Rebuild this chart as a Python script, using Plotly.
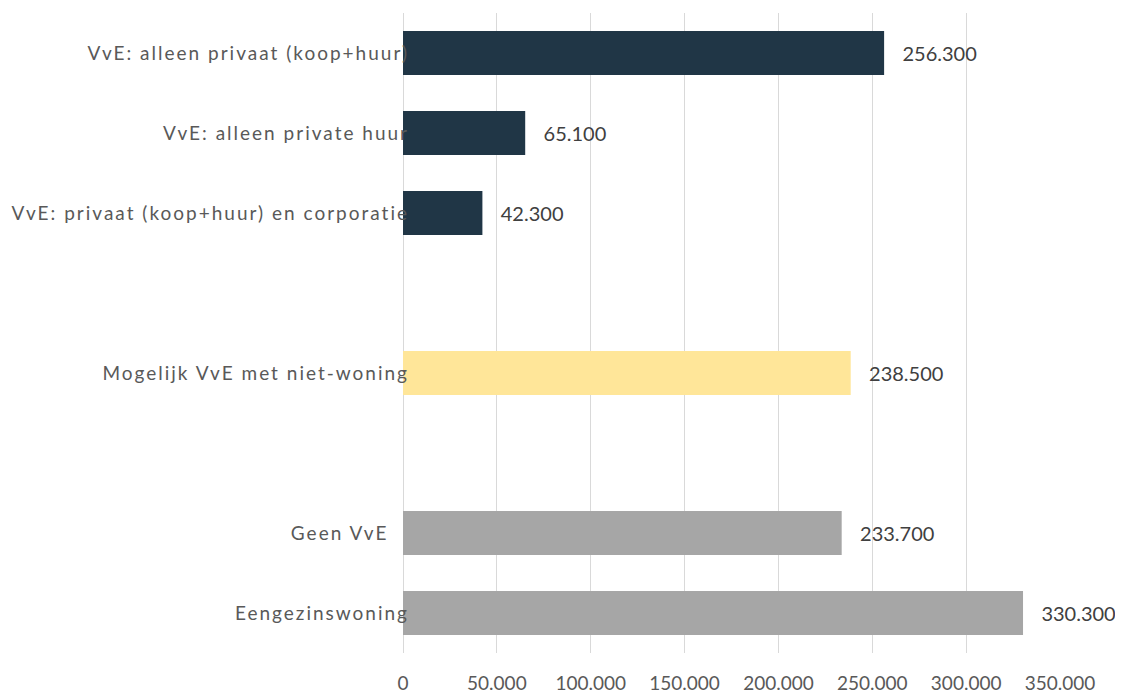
import plotly.graph_objects as go

# categories top to bottom, blanks are the gaps between the groups
categories = [
    "VvE: alleen privaat (koop+huur)",
    "VvE: alleen private huur",
    "VvE: privaat (koop+huur) en corporatie",
    " ",
    "Mogelijk VvE met niet-woning",
    "  ",
    "Geen VvE\u00a0\u00a0\u00a0",
    "Eengezinswoning",
]

vve_labels = categories[0:3]
vve_values = [256300, 65100, 42300]

mogelijk_labels = [categories[4]]
mogelijk_values = [238500]

geen_labels = categories[6:8]
geen_values = [233700, 330300]

x_ticks = [0, 50000, 100000, 150000, 200000, 250000, 300000, 350000]


def spaced(s):
    return '<span style="letter-spacing:2px">' + s + '</span>'


def bar(labels, values, color):
    return go.Bar(
        y=labels, x=values, orientation="h",
        marker=dict(color=color, line=dict(width=0)),
        width=0.55,
        texttemplate="\u00a0\u00a0\u00a0%{x:,d}",
        textposition="outside",
        textfont=dict(family="Lato", size=20, color="#404040"),
        cliponaxis=False,
        showlegend=False,
        hoverinfo="skip",
    )


fig = go.Figure()
fig.add_trace(bar(vve_labels, vve_values, "#203646"))
fig.add_trace(bar(mogelijk_labels, mogelijk_values, "#FFE699"))
fig.add_trace(bar(geen_labels, geen_values, "#A6A6A6"))

# page body has an 8px margin, so the figure is 16px smaller than the window
fig.update_layout(
    width=1115, height=687,
    margin=dict(l=395, r=63, t=5, b=42),
    paper_bgcolor="white", plot_bgcolor="white",
    separators=",.",
    barmode="overlay",
    font=dict(family="Lato", size=19, color="#595959"),
)

fig.update_xaxes(
    range=[0, 350000],
    tickvals=x_ticks,
    tickformat=",d",
    showgrid=True, gridcolor="#D9D9D9", gridwidth=1,
    zeroline=True, zerolinecolor="#D9D9D9", zerolinewidth=1,
    showline=False,
    ticks="outside", ticklen=13, tickcolor="rgba(0,0,0,0)",
    tickfont=dict(family="Lato", size=19, color="#595959"),
    automargin=False,
)

fig.update_yaxes(
    categoryorder="array",
    categoryarray=categories,
    tickvals=categories,
    ticktext=[spaced(c) for c in categories],
    autorange="reversed",
    showgrid=False, zeroline=False, showline=False,
    ticks="",
    ticklabelstandoff=-7,
    tickfont=dict(family="Lato", size=19, color="#595959"),
    automargin=False,
)

fig.write_html("out.html")
